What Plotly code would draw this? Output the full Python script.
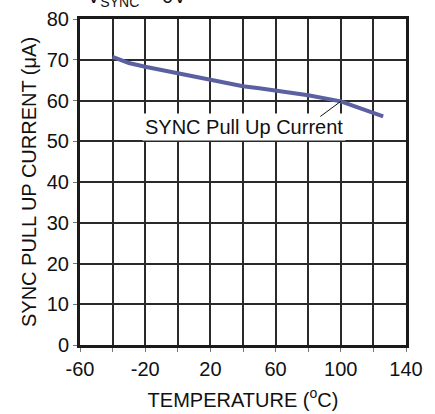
import plotly.graph_objects as go

temperature = [-40, -30, -20, 0, 20, 40, 50, 60, 80, 100, 126]
current = [70.7, 69.2, 68.3, 66.7, 65.0, 63.5, 63.0, 62.5, 61.3, 59.8, 56.1]

x_ticks = [-60, -20, 20, 60, 100, 140]
y_ticks = [0, 10, 20, 30, 40, 50, 60, 70, 80]

label_text = "SYNC Pull Up Current"
label_pos = (40.5, 53.4)
arrow_tip = (100, 59.8)
arrow_tail = (86.5, 55.8)

FONT = "Liberation Sans, Arial, sans-serif"

fig = go.Figure()
fig.add_trace(go.Scatter(
    x=temperature, y=current, mode="lines",
    line=dict(color="#5a60a0", width=4), showlegend=False,
))

fig.add_annotation(
    x=label_pos[0], y=label_pos[1], text=label_text, showarrow=False,
    font=dict(family=FONT, size=20, color="#111"),
    bgcolor="white", borderpad=2,
)
fig.add_annotation(
    x=arrow_tip[0], y=arrow_tip[1], ax=arrow_tail[0], ay=arrow_tail[1],
    axref="x", ayref="y", text="", showarrow=True, arrowhead=0,
    arrowwidth=1, arrowcolor="#111",
)
fig.add_annotation(
    xref="paper", yref="paper", x=0.015, y=1.02, xanchor="left", yanchor="bottom",
    text="V<sub>SYNC</sub> = 0V", showarrow=False,
    font=dict(family=FONT, size=20, color="#111"),
)

axis_common = dict(
    showgrid=True, gridcolor="#2a2a2a", gridwidth=1.5,
    showline=True, linecolor="#1a1a1a", linewidth=3, mirror=True,
    ticks="outside", ticklen=4, tickcolor="#777", tickwidth=1,
    tickfont=dict(family=FONT, size=20, color="#111"),
    zeroline=False,
)

fig.update_xaxes(
    range=[-60, 140], tickvals=list(range(-60, 141, 20)),
    ticktext=[str(v) if v in x_ticks else "" for v in range(-60, 141, 20)],
    title=dict(text="TEMPERATURE (<sup>o</sup>C)", font=dict(family=FONT, size=20, color="#111"), standoff=14),
    **axis_common,
)
fig.update_yaxes(
    range=[0, 80], tickvals=y_ticks,
    title=dict(text="SYNC PULL UP CURRENT (μA)", font=dict(family=FONT, size=20, color="#111"), standoff=5),
    **axis_common,
)

fig.update_layout(
    width=435, height=414,
    margin=dict(l=80, r=29, t=19, b=69, autoexpand=False),
    paper_bgcolor="white", plot_bgcolor="white",
)

fig.write_html("out.html", config={"displayModeBar": False},
               post_script="document.body.style.margin='0';")
